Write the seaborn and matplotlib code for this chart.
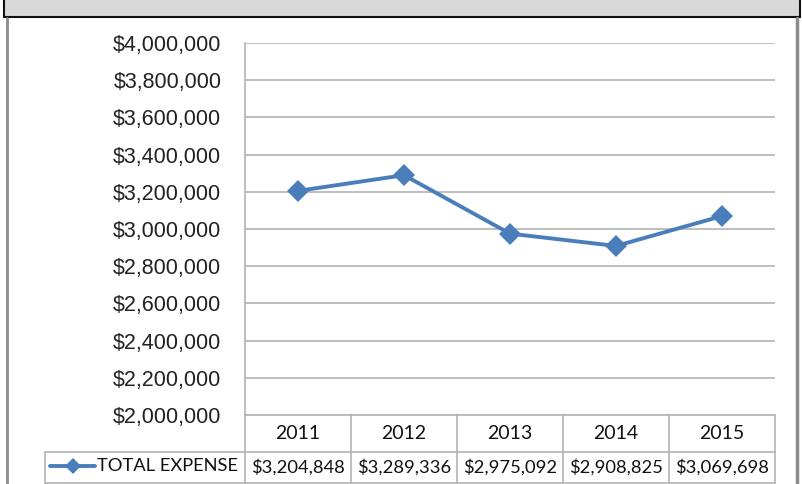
import matplotlib
matplotlib.use("Agg")
import matplotlib.pyplot as plt
from matplotlib.patches import Rectangle
from matplotlib.lines import Line2D
from matplotlib.ticker import FuncFormatter
import seaborn as sns
import pandas as pd

# data
years = ["2011", "2012", "2013", "2014", "2015"]
total_expense = [3204848, 3289336, 2975092, 2908825, 3069698]
series_name = "TOTAL EXPENSE"

sns.set_style("white")
plt.rcParams['font.family'] = ['Liberation Sans', 'DejaVu Sans']

df = pd.DataFrame({"pos": range(len(years)), "value": total_expense})

W, H = 802, 484
fig = plt.figure(figsize=(W / 100, H / 100), dpi=100)
ax = fig.add_axes([245 / W, 1 - 415 / H, 530 / W, 372 / H])

line_color = "#4A7EBB"
grid_color = "#B3B3B3"

sns.lineplot(data=df, x="pos", y="value", ax=ax, color=line_color, lw=2.8,
             marker="D", markersize=11, markeredgewidth=0, zorder=3)

ax.set_xlim(-0.5, len(years) - 0.5)
ax.set_ylim(2000000, 4000000)
ax.set_yticks(range(2000000, 4000001, 200000))
ax.yaxis.set_major_formatter(FuncFormatter(lambda v, p: f"${v:,.0f}"))
ax.tick_params(axis="y", labelsize=15.5, length=0, pad=17, colors="#222222")
ax.set_xticks([])
ax.set_xlabel("")
ax.set_ylabel("")
ax.grid(axis="y", color=grid_color, lw=1.2)
for s in ["top", "right", "bottom"]:
    ax.spines[s].set_visible(False)
ax.spines["left"].set_color(grid_color)
ax.spines["left"].set_linewidth(1.2)

# data table under the axes
tfont = ['Lato', 'DejaVu Sans']
tsize = 13.2
row1 = -37 / 372
row2 = -68 / 372
tr = ax.get_xaxis_transform()
kw = dict(color=grid_color, lw=1.2, transform=tr, clip_on=False)
ax.plot([-0.5, 4.5], [0, 0], **kw)
ax.plot([-0.5, 4.5], [row1, row1], **kw)
ax.plot([-0.5, 4.5], [row2, row2], **kw)
for i in range(len(years) + 1):
    ax.plot([i - 0.5, i - 0.5], [0, row2], **kw)
for i, (y, v) in enumerate(zip(years, total_expense)):
    ax.text(i, row1 / 2, y, ha="center", va="center", fontsize=14,
            family=tfont, transform=tr, color="#111111")
    ax.text(i, (row1 + row2) / 2, f"${v:,.0f}", ha="center", va="center",
            fontsize=tsize, family=tfont, transform=tr, color="#111111")

# legend cell
ft = fig.transFigure
fig.add_artist(Line2D([45 / W, 245 / W], [1 - 452 / H, 1 - 452 / H], color=grid_color, lw=1.2, transform=ft))
fig.add_artist(Line2D([45 / W, 245 / W], [1 - 483 / H, 1 - 483 / H], color=grid_color, lw=1.2, transform=ft))
fig.add_artist(Line2D([45 / W, 45 / W], [1 - 452 / H, 1 - 483 / H], color=grid_color, lw=1.2, transform=ft))
ly = 1 - 466 / H
fig.add_artist(Line2D([50 / W, 95 / W], [ly, ly], color=line_color, lw=2.8, transform=ft))
fig.add_artist(Line2D([72.5 / W], [ly], color=line_color, marker="D", markersize=8,
                      markeredgewidth=0, transform=ft))
fig.text(97 / W, ly, series_name, ha="left", va="center", fontsize=tsize,
         family=tfont, color="#111111")

# chart frame and grey band on top
fig.add_artist(Line2D([7 / W, 7 / W], [0, 1 - 18 / H], color="#8C8C8C", lw=2, transform=ft))
fig.add_artist(Line2D([797 / W, 797 / W], [0, 1 - 18 / H], color="#8C8C8C", lw=2.5, transform=ft))
fig.add_artist(Rectangle((4 / W, 1 - 17 / H), 796 / W, 0.1, transform=ft,
                         facecolor="#D9D9D9", edgecolor="#111111", lw=1.5))

fig.savefig("out.png", dpi=100)
